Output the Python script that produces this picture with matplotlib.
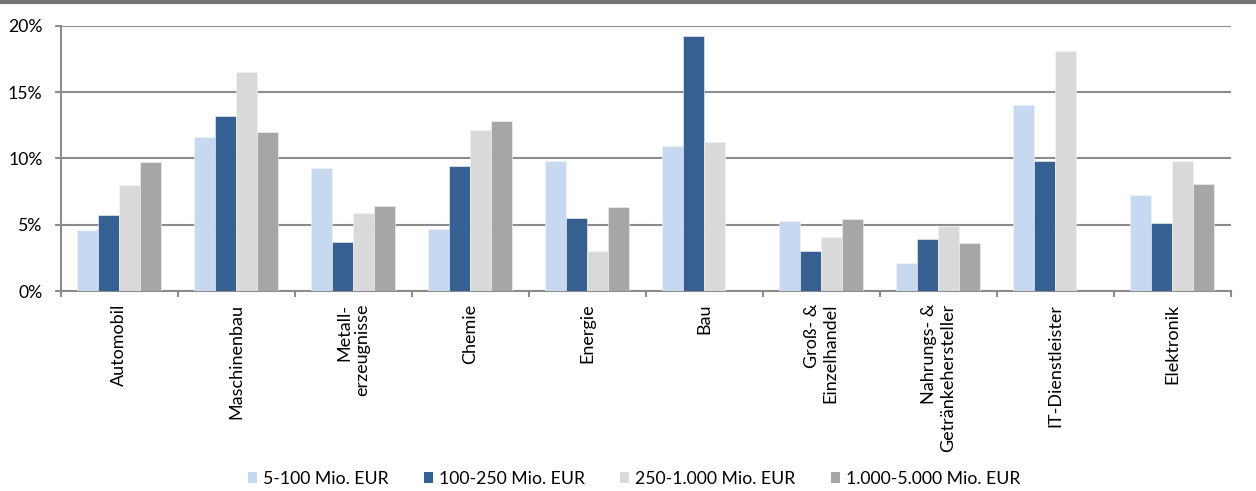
import matplotlib
matplotlib.use("Agg")
import matplotlib.pyplot as plt
import numpy as np
from matplotlib.lines import Line2D
from matplotlib.patches import Patch

plt.rcParams['font.family'] = ['Lato', 'DejaVu Sans']

categories = ["Automobil", "Maschinenbau", "Metall-\nerzeugnisse", "Chemie", "Energie",
              "Bau", "Groß- &\nEinzelhandel", "Nahrungs- &\nGetränkehersteller",
              "IT-Dienstleister", "Elektronik"]
series_names = ["5-100 Mio. EUR", "100-250 Mio. EUR", "250-1.000 Mio. EUR", "1.000-5.000 Mio. EUR"]
s1 = [4.6, 11.6, 9.3, 4.7, 9.8, 10.9, 5.3, 2.1, 14.0, 7.2]
s2 = [5.7, 13.2, 3.7, 9.4, 5.5, 19.2, 3.0, 3.9, 9.8, 5.1]
s3 = [8.0, 16.5, 5.9, 12.1, 3.0, 11.2, 4.1, 4.9, 18.1, 9.8]
s4 = [9.7, 12.0, 6.4, 12.8, 6.3, np.nan, 5.4, 3.6, np.nan, 8.1]
yticks = [0, 5, 10, 15, 20]
ytick_labels = ["0%", "5%", "10%", "15%", "20%"]

colors = ["#C6D9F1", "#376092", "#D9D9D9", "#A6A6A6"]

fig = plt.figure(figsize=(12.56, 4.91), dpi=100)
ax = fig.add_axes([0.0483, 0.4073, 0.98 - 0.0483, 0.9477 - 0.4073])

x = np.arange(len(categories))
w = 0.18
all_series = [s1, s2, s3, s4]
for i, (vals, c) in enumerate(zip(all_series, colors)):
    ax.bar(x + (i - 1.5) * w, vals, width=w, color=c, edgecolor="#F4F4F4", linewidth=0.4, zorder=3)

ax.set_xlim(-0.5, len(categories) - 0.5)
ax.set_ylim(0, 20)
ax.set_yticks(yticks)
ax.set_yticklabels(ytick_labels, fontsize=12.7)
ax.yaxis.grid(True, color="#8C8C8C", linewidth=1.5, zorder=1)
ax.set_axisbelow(True)

# x ticks at category boundaries (major), labels at centers (minor)
ax.set_xticks(np.arange(-0.5, len(categories), 1.0))
ax.set_xticklabels([])
ax.set_xticks(x, minor=True)
ax.set_xticklabels(categories, minor=True, rotation=90, ha="center", va="top",
                   multialignment="right", fontsize=13)
ax.tick_params(axis="x", which="major", length=4, width=1.5, color="#8C8C8C", direction="out")
ax.tick_params(axis="x", which="minor", length=0, pad=9)
ax.tick_params(axis="y", length=4, width=1.5, color="#8C8C8C", pad=9)

for side in ["top", "right"]:
    ax.spines[side].set_visible(False)
for side in ["left", "bottom"]:
    ax.spines[side].set_color("#8C8C8C")
    ax.spines[side].set_linewidth(1.5)

# top border line
fig.add_artist(Line2D([0, 1], [1 - 2 / 491, 1 - 2 / 491], transform=fig.transFigure,
                      color="#747474", linewidth=3))

handles = [Patch(facecolor=c, edgecolor="none") for c in colors]
fig.legend(handles, series_names, loc="center", bbox_to_anchor=(0.5048, 1 - 479 / 491),
           ncol=4, frameon=False, fontsize=12.7, handlelength=0.5, handleheight=0.6,
           handletextpad=0.35, columnspacing=2.0)

fig.savefig("out.png", dpi=100)
